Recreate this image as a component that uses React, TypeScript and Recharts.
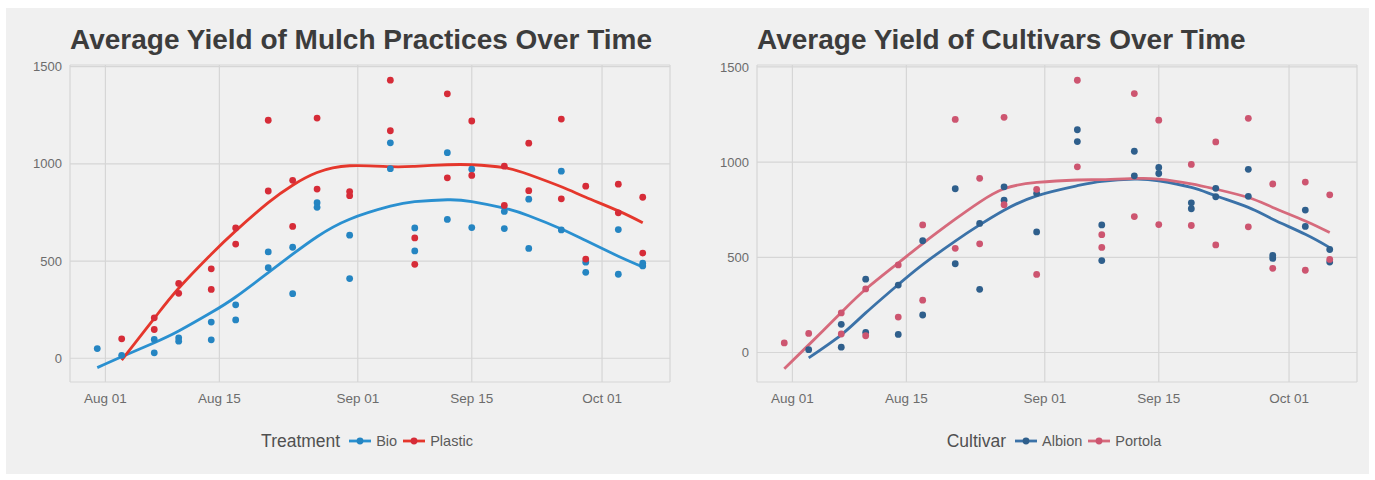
import React from 'react';
import { ComposedChart, Scatter, Line, XAxis, YAxis, CartesianGrid } from 'recharts';

// Harvest dates (one entry per sampling day)
const sampleDates = [
  '2015-07-31', '2015-08-03', '2015-08-07', '2015-08-10', '2015-08-14',
  '2015-08-17', '2015-08-21', '2015-08-24', '2015-08-27', '2015-08-31',
  '2015-09-05', '2015-09-08', '2015-09-12', '2015-09-15', '2015-09-19',
  '2015-09-22', '2015-09-26', '2015-09-29', '2015-10-03', '2015-10-06',
];

// Average yield per plot, by mulch treatment and cultivar (null = not sampled)
const bioAlbion = [null, 15, 28, 105, 95, 197, 466, 332, 800, 633, 1108, 670, 1057, 972, 755, 818, 962, 494, 662, 475];
const bioPortola = [50, null, 97, 88, 186, 275, 547, 571, 776, 410, 975, 552, 714, 672, 667, 565, 660, 442, 432, 489];
const plasticAlbion = [null, null, 148, 385, 354, 587, 860, 678, 870, 836, 1170, 483, 928, 940, 786, 862, 820, 510, 748, 541];
const plasticPortola = [null, 100, 208, 334, 460, 670, 1224, 915, 1235, 857, 1430, 619, 1360, 1220, 988, 1106, 1230, 885, 895, 828];

// Smoothed trend per group, at the same dates
const bioTrend = [-48, 8, 80, 140, 235, 315, 440, 535, 625, 715, 782, 805, 815, 806, 772, 733, 665, 605, 525, 470];
const plasticTrend = [null, -9, 205, 360, 535, 655, 800, 890, 955, 990, 985, 987, 995, 995, 980, 945, 882, 828, 758, 697];
const albionTrend = [null, -28, 93, 208, 357, 462, 585, 670, 747, 823, 876, 899, 911, 902, 867, 823, 762, 700, 621, 551];
const portolaTrend = [-85, 40, 210, 332, 470, 572, 700, 790, 860, 893, 906, 908, 914, 911, 886, 858, 814, 762, 691, 630];

// Axis ticks
const dateTicks = ['2015-08-01', '2015-08-15', '2015-09-01', '2015-09-15', '2015-10-01'];
const dateTickLabels = ['Aug 01', 'Aug 15', 'Sep 01', 'Sep 15', 'Oct 01'];
const yieldTicks = [0, 500, 1000, 1500];

const ORIGIN = Date.UTC(2015, 7, 1);
const toDay = (iso: string) => {
  const [y, m, d] = iso.split('-').map(Number);
  return Math.round((Date.UTC(y, m - 1, d) - ORIGIN) / 86400000);
};
const days = sampleDates.map(toDay);
const tickDays = dateTicks.map(toDay);
const tickLabel = (d: number) => dateTickLabels[tickDays.indexOf(d)] ?? '';

type Pt = { day: number; v: number };
const pointsOf = (...series: (number | null)[][]): Pt[] => {
  const out: Pt[] = [];
  series.forEach((s) =>
    s.forEach((v, i) => {
      if (v !== null) out.push({ day: days[i], v });
    })
  );
  return out;
};

const FONT = '"Liberation Sans", Arial, Helvetica, sans-serif';

type Group = {
  name: string;
  line: string;
  dot: string;
  points: Pt[];
  trend: Pt[];
};

const dotShape = (color: string) => (props: any) =>
  <circle cx={props.cx} cy={props.cy} r={3.4} fill={color} />;

const CHART_W = 688;
const CHART_H = 480;
const MARGIN = { top: 65, right: 18, left: 10, bottom: 68 };
const PLOT_LEFT = MARGIN.left + 60;
const PLOT_W = CHART_W - PLOT_LEFT - MARGIN.right;

function Panel({
  left,
  title,
  legendTitle,
  groups,
  yDomain,
}: {
  left: number;
  title: string;
  legendTitle: string;
  groups: Group[];
  yDomain: [number, number];
}) {
  return (
    <div style={{ position: 'absolute', left, top: 0, width: CHART_W, height: CHART_H }}>
      <div
        style={{
          position: 'absolute',
          left: PLOT_LEFT,
          top: 26,
          fontFamily: FONT,
          fontWeight: 700,
          fontSize: 28,
          lineHeight: 1,
          color: '#3c3c3c',
          whiteSpace: 'nowrap',
        }}
      >
        {title}
      </div>
      <ComposedChart width={CHART_W} height={CHART_H} margin={MARGIN}>
        <CartesianGrid stroke="#d6d6d6" strokeWidth={1.2} />
        <XAxis
          type="number"
          dataKey="day"
          domain={[-4.35, 69.35]}
          allowDataOverflow
          ticks={tickDays}
          tickFormatter={tickLabel}
          axisLine={false}
          tickLine={false}
          tickSize={0}
          tickMargin={11}
          height={30}
          tick={{ fill: '#6c6c6c', fontSize: 13.5, fontFamily: FONT }}
        />
        <YAxis
          type="number"
          dataKey="v"
          domain={yDomain}
          allowDataOverflow
          ticks={yieldTicks}
          axisLine={false}
          tickLine={false}
          tickSize={0}
          tickMargin={8}
          width={60}
          tick={{ fill: '#6c6c6c', fontSize: 13, fontFamily: FONT }}
        />
        {groups.map((g) => (
          <Scatter
            key={'p' + g.name}
            name={g.name}
            data={g.points}
            dataKey="v"
            fill={g.dot}
            shape={dotShape(g.dot)}
            isAnimationActive={false}
          />
        ))}
        {groups.map((g) => (
          <Line
            key={'l' + g.name}
            data={g.trend}
            dataKey="v"
            type="natural"
            stroke={g.line}
            strokeWidth={2.8}
            dot={false}
            activeDot={false}
            isAnimationActive={false}
          />
        ))}
      </ComposedChart>
      <div
        style={{
          position: 'absolute',
          left: PLOT_LEFT,
          width: PLOT_W,
          top: 430,
          height: 22,
          display: 'flex',
          justifyContent: 'center',
          alignItems: 'center',
          fontFamily: FONT,
        }}
      >
        <span style={{ fontSize: 17.5, color: '#505050', marginRight: 9 }}>{legendTitle}</span>
        {groups.map((g) => (
          <span key={g.name} style={{ display: 'flex', alignItems: 'center', marginRight: 6 }}>
            <svg width={22} height={10} style={{ marginRight: 5 }}>
              <line x1={0} y1={5} x2={22} y2={5} stroke={g.line} strokeWidth={2.8} />
              <circle cx={11} cy={5} r={3.4} fill={g.dot} />
            </svg>
            <span style={{ fontSize: 14.5, color: '#5a5a5a' }}>{g.name}</span>
          </span>
        ))}
      </div>
    </div>
  );
}

const toTrend = (s: (number | null)[]): Pt[] => pointsOf(s);

const treatmentGroups: Group[] = [
  { name: 'Bio', line: '#2a90d0', dot: '#2585c2', points: pointsOf(bioAlbion, bioPortola), trend: toTrend(bioTrend) },
  { name: 'Plastic', line: '#e5372c', dot: '#d62c38', points: pointsOf(plasticAlbion, plasticPortola), trend: toTrend(plasticTrend) },
];

const cultivarGroups: Group[] = [
  { name: 'Albion', line: '#3b72a8', dot: '#2f5f8c', points: pointsOf(bioAlbion, plasticAlbion), trend: toTrend(albionTrend) },
  { name: 'Portola', line: '#d66a7c', dot: '#cd5570', points: pointsOf(bioPortola, plasticPortola), trend: toTrend(portolaTrend) },
];

export default function App() {
  return (
    <div style={{ position: 'absolute', left: 0, top: 0, width: 1375, height: 480, background: '#ffffff' }}>
      <div style={{ position: 'absolute', left: 6, top: 8, width: 1363, height: 466, background: '#f0f0f0' }} />
      <Panel
        left={0}
        title="Average Yield of Mulch Practices Over Time"
        legendTitle="Treatment"
        groups={treatmentGroups}
        yDomain={[-122, 1508]}
      />
      <Panel
        left={687}
        title="Average Yield of Cultivars Over Time"
        legendTitle="Cultivar"
        groups={cultivarGroups}
        yDomain={[-155, 1510]}
      />
    </div>
  );
}
